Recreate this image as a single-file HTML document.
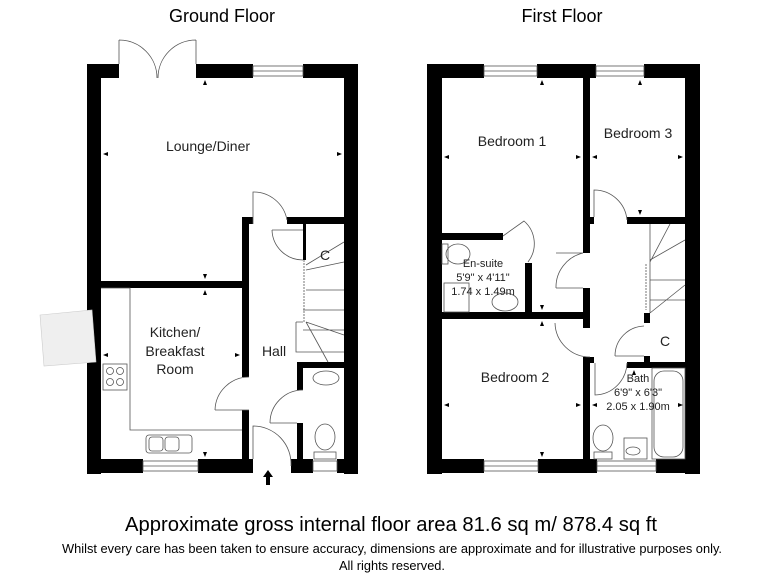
<!DOCTYPE html>
<html><head><meta charset="utf-8"><style>
html,body{margin:0;padding:0;background:#fff;}
svg{display:block;font-family:"Liberation Sans",Arial,sans-serif;}
</style></head><body>
<svg width="768" height="576" viewBox="0 0 768 576" xmlns="http://www.w3.org/2000/svg">
<rect width="768" height="576" fill="#fff"/>
<text x="222" y="22" font-size="18" text-anchor="middle">Ground Floor</text>
<text x="562" y="22" font-size="18" text-anchor="middle">First Floor</text>

<!-- GROUND FLOOR -->
<g fill="#000">
<rect x="87" y="64" width="14" height="410"/>
<rect x="344" y="64" width="14" height="410"/>
<rect x="87" y="64" width="32" height="14"/>
<rect x="196" y="64" width="57" height="14"/>
<rect x="303" y="64" width="55" height="14"/>
<rect x="87" y="459" width="56" height="14"/>
<rect x="198" y="459" width="55" height="14"/>
<rect x="291" y="459" width="22" height="14"/>
<rect x="337" y="459" width="21" height="14"/>
<rect x="101" y="281" width="147" height="7"/>
<rect x="242" y="217" width="7" height="160"/>
<rect x="242" y="217" width="11" height="7"/>
<rect x="242" y="410" width="7" height="50"/>
<rect x="287" y="217" width="57" height="7"/>
<rect x="303" y="224" width="3" height="36"/>
<rect x="297" y="362" width="47" height="6"/>
<rect x="297" y="362" width="6" height="28"/>
<rect x="297" y="423" width="6" height="37"/>
</g>
<g fill="none" stroke="#555" stroke-width="0.8">
<rect x="253" y="66" width="50" height="10"/><line x1="253" y1="71" x2="303" y2="71"/>
<rect x="143" y="461" width="55" height="10"/><line x1="143" y1="466" x2="198" y2="466"/>
<rect x="313" y="461" width="24" height="10"/>
<path d="M119 64 V40 M119 40 A38 38 0 0 1 157 78 M196 64 V40 M196 40 A38 38 0 0 0 158 78"/>
<path d="M253 224 V192 A34 34 0 0 1 287 220"/>
<path d="M272 230 H303 M272 230 A31 31 0 0 0 303 260"/>
<path d="M215 410 H249 M215 410 A34 34 0 0 1 249 377"/>
<path d="M270 423 H297 M270 423 A33 33 0 0 1 303 390"/>
<path d="M253 459 V426 A38 38 0 0 1 291 466"/>
<path d="M101 288 H130 V430 H242"/>
<rect x="103" y="364" width="24" height="26"/>
<circle cx="110" cy="371" r="3.5"/><circle cx="120" cy="371" r="3.5"/>
<circle cx="110" cy="382" r="3.5"/><circle cx="120" cy="382" r="3.5"/>
<rect x="146" y="435" width="46" height="18" rx="3"/>
<rect x="149" y="437" width="14" height="14" rx="3"/><rect x="165" y="437" width="14" height="14" rx="3"/>
<path d="M306 265 L344 242 M306 270 L344 262 M306 290 H344 M303 310 H344 M303 330 H344 M296 322 H303 M296 322 V352 H344 M306 322 L328 362 M306 322 L344 335"/>
<line x1="304" y1="260" x2="304" y2="322" stroke-dasharray="2,1"/>
<ellipse cx="326" cy="378" rx="13" ry="7"/>
<ellipse cx="325" cy="437" rx="10" ry="13"/>
<rect x="314" y="452" width="22" height="7"/>
</g>
<polygon points="40,315 92,310 96,362 44,366" fill="#efefef" stroke="#ccc" stroke-width="0.6"/>
<path d="M268 470 L263 477 H266 V485 H270 V477 H273 Z" fill="#000"/>
<g font-size="14" text-anchor="middle" fill="#222">
<text x="208" y="151">Lounge/Diner</text>
<text x="175" y="337">Kitchen/</text>
<text x="175" y="356">Breakfast</text>
<text x="175" y="374">Room</text>
<text x="274" y="356">Hall</text>
<text x="325" y="260">C</text>
</g>

<!-- FIRST FLOOR -->
<g fill="#000">
<rect x="427" y="64" width="15" height="410"/>
<rect x="685" y="64" width="15" height="410"/>
<rect x="427" y="64" width="57" height="14"/>
<rect x="537" y="64" width="59" height="14"/>
<rect x="644" y="64" width="56" height="14"/>
<rect x="427" y="459" width="57" height="14"/>
<rect x="538" y="459" width="59" height="14"/>
<rect x="656" y="459" width="44" height="14"/>
<rect x="583" y="78" width="7" height="175"/>
<rect x="583" y="217" width="11" height="7"/>
<rect x="583" y="288" width="7" height="40"/>
<rect x="442" y="312" width="148" height="7"/>
<rect x="583" y="357" width="7" height="103"/>
<rect x="583" y="357" width="11" height="6"/>
<rect x="627" y="217" width="58" height="7"/>
<rect x="644" y="313" width="6" height="10"/>
<rect x="627" y="362" width="58" height="6"/>
<rect x="644" y="356" width="6" height="12"/>
<rect x="442" y="233" width="61" height="7"/>
<rect x="525" y="263" width="7" height="50"/>
</g>
<g fill="none" stroke="#555" stroke-width="0.8">
<rect x="484" y="66" width="53" height="10"/><line x1="484" y1="71" x2="537" y2="71"/>
<rect x="596" y="66" width="48" height="10"/><line x1="596" y1="71" x2="644" y2="71"/>
<rect x="484" y="461" width="54" height="10"/><line x1="484" y1="466" x2="538" y2="466"/>
<rect x="597" y="461" width="59" height="10"/><line x1="597" y1="466" x2="656" y2="466"/>
<path d="M594 217 V190 A33 33 0 0 1 627 220"/>
<path d="M556 253 H583 M556 288 A35 35 0 0 1 583 253 M556 288 H583"/>
<path d="M555 323 A35 35 0 0 0 590 357"/>
<path d="M595 363 V395 A33 33 0 0 0 627 363"/>
<path d="M615 356 A30 30 0 0 1 644 326 M615 356 H644"/>
<path d="M503 236 L524 221 A30 30 0 0 1 528 262"/>
<path d="M650 224 V313 M650 262 L670 224 M650 260 L685 240 M650 280 H685 M650 300 H685 M650 313 L685 285"/>
<line x1="646" y1="264" x2="646" y2="310" stroke-dasharray="2,1"/>
<ellipse cx="458" cy="254" rx="12" ry="10"/><rect x="442" y="244" width="6" height="20"/>
<rect x="444" y="283" width="25" height="29"/>
<ellipse cx="505" cy="302" rx="13" ry="9"/>
<rect x="654" y="371" width="29" height="86" rx="10"/>
<rect x="652" y="368" width="33" height="91"/>
<ellipse cx="603" cy="438" rx="10" ry="13"/><rect x="594" y="452" width="18" height="7"/>
<rect x="624" y="438" width="23" height="21"/><ellipse cx="633" cy="451" rx="7" ry="4"/>
</g>
<g font-size="14" text-anchor="middle" fill="#222">
<text x="512" y="146">Bedroom 1</text>
<text x="638" y="138">Bedroom 3</text>
<text x="515" y="382">Bedroom 2</text>
<text x="665" y="346">C</text>
</g>
<g font-size="11" text-anchor="middle" fill="#222">
<text x="483" y="267">En-suite</text>
<text x="483" y="281">5'9" x 4'11"</text>
<text x="483" y="295">1.74 x 1.49m</text>
<text x="638" y="382">Bath</text>
<text x="638" y="396">6'9" x 6'3"</text>
<text x="638" y="410">2.05 x 1.90m</text>
</g>

<g fill="#000">
<path d="M205 80 l-2 5 h4z M205 279 l-2 -5 h4z M205 290 l-2 5 h4z M205 457 l-2 -5 h4z"/>
<path d="M103 154 l5 -2 v4z M342 154 l-5 -2 v4z M103 355 l5 -2 v4z M240 355 l-5 -2 v4z"/>
<path d="M542 80 l-2 5 h4z M640 80 l-2 5 h4z M640 215 l-2 -5 h4z M542 310 l-2 -5 h4z M542 321 l-2 5 h4z M542 457 l-2 -5 h4z M634 370 l-2 5 h4z"/>
<path d="M444 157 l5 -2 v4z M581 157 l-5 -2 v4z M592 157 l5 -2 v4z M683 157 l-5 -2 v4z M444 405 l5 -2 v4z M581 405 l-5 -2 v4z M592 405 l5 -2 v4z M683 405 l-5 -2 v4z"/>
</g>

<text x="391" y="531" font-size="20" text-anchor="middle" textLength="532" lengthAdjust="spacingAndGlyphs">Approximate gross internal floor area 81.6 sq m/ 878.4 sq ft</text>
<text x="392" y="553" font-size="12.8" text-anchor="middle" textLength="660" lengthAdjust="spacingAndGlyphs">Whilst every care has been taken to ensure accuracy, dimensions are approximate and for illustrative purposes only.</text>
<text x="392" y="570" font-size="12.8" text-anchor="middle">All rights reserved.</text>
</svg>
</body></html>
